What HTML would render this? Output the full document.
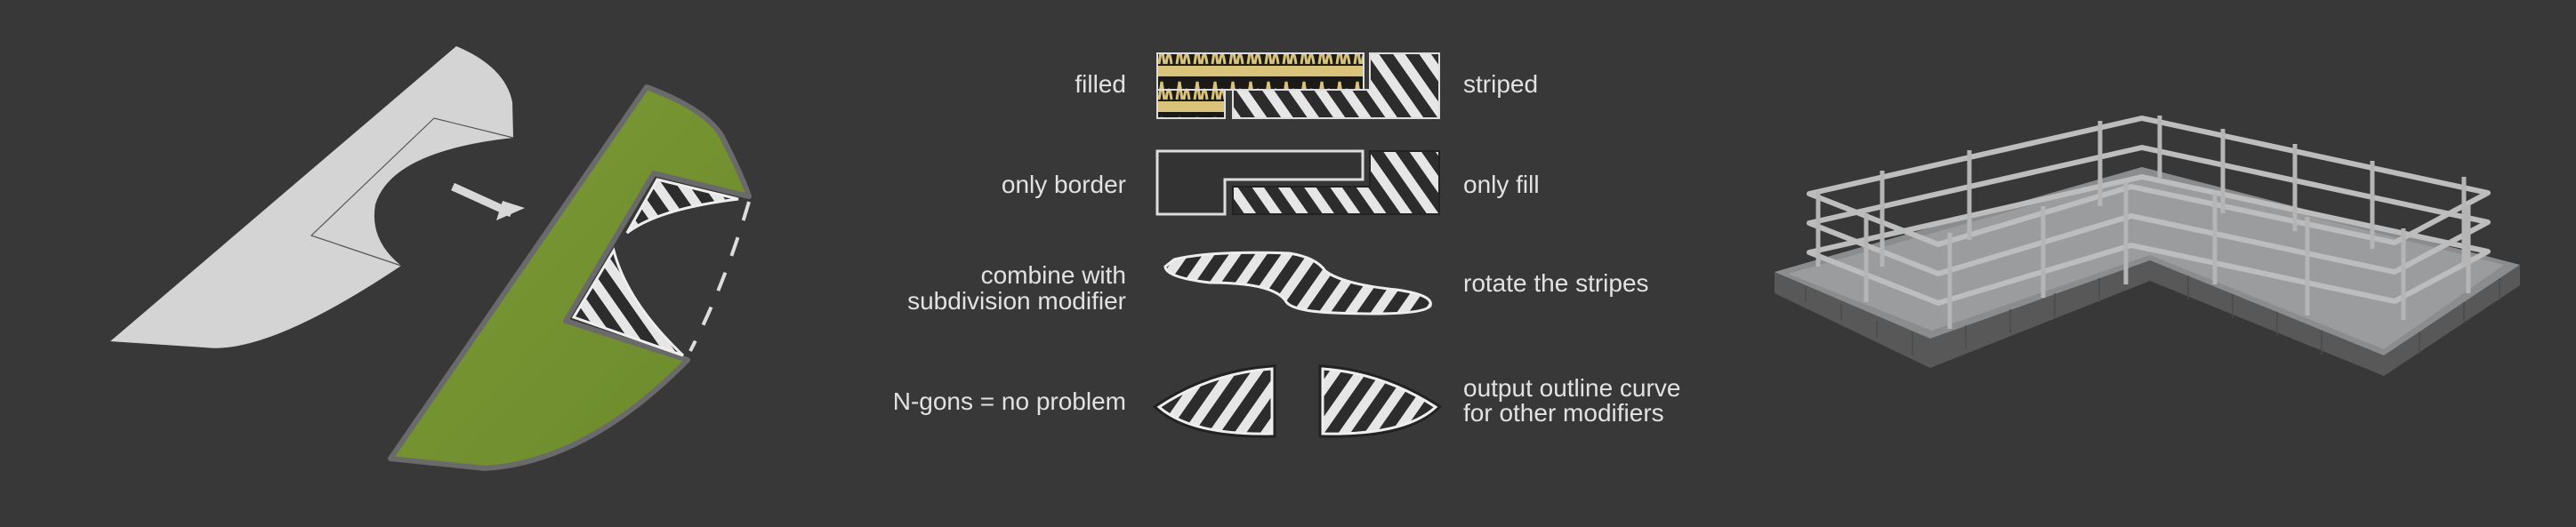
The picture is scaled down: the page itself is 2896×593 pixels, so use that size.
<!DOCTYPE html>
<html><head><meta charset="utf-8"><style>
html,body{margin:0;padding:0;background:#383838;}
svg{display:block}
text{font-family:"Liberation Sans Narrow","Liberation Sans",sans-serif;font-size:28px;fill:#e2e2e2}
</style></head><body>
<svg width="2896" height="593" viewBox="0 0 2896 593" xmlns="http://www.w3.org/2000/svg">
<defs>
<pattern id="st" width="24" height="24" patternUnits="userSpaceOnUse" patternTransform="rotate(35)">
<rect width="24" height="24" fill="#2c2c2c"/><rect width="11" height="24" fill="#e6e6e6"/></pattern>
<pattern id="st2" width="24" height="24" patternUnits="userSpaceOnUse" patternTransform="rotate(-35)">
<rect width="24" height="24" fill="#2c2c2c"/><rect width="11" height="24" fill="#e6e6e6"/></pattern>
<pattern id="gold" width="20" height="40" patternUnits="userSpaceOnUse">
<rect width="20" height="40" fill="#1c1a16"/><rect width="20" height="6" fill="#d9c27a"/><rect y="34" width="20" height="6" fill="#d9c27a"/>
<path d="M3 32 L6 12 L9 32 M11 32 Q14 10 17 32" stroke="#d9c27a" stroke-width="3" fill="none"/></pattern>
<linearGradient id="gr" x1="0" y1="0" x2="1" y2="1"><stop offset="0" stop-color="#7f9a35"/><stop offset="1" stop-color="#6a8a2c"/></linearGradient>
</defs>
<rect width="2896" height="593" fill="#383838"/>

<!-- left gray shape -->
<path d="M513 52 Q568 75 576 115 L577 155 Q440 170 422 230 Q415 270 451 299 Q300 400 230 391 L124 384 Z" fill="#d4d4d4"/>
<path d="M577 155 L488 133 L350 265 L451 299" fill="none" stroke="#555" stroke-width="1.2"/>
<!-- arrow -->
<path d="M509 210 L575 240" stroke="#d8d8d8" stroke-width="9"/>
<path d="M590 234 L565 226 L558 248 Z" fill="#d8d8d8"/>

<!-- green shape -->
<path d="M727 98 Q800 125 815 160 Q835 200 842 221 L735 195 L636 361 L773 405 Q660 520 545 527 L439 516 Z" fill="url(#gr)" stroke="#6a6a6a" stroke-width="6" stroke-linejoin="round"/>
<path d="M739 202 L830 224 Q740 235 705 262 Z" fill="url(#st2)" stroke="#eee" stroke-width="3"/>
<path d="M690 282 L645 357 L768 400 Q705 340 690 282 Z" fill="url(#st2)" stroke="#eee" stroke-width="3"/>
<path d="M842 227 Q815 320 776 395" fill="none" stroke="#ddd" stroke-width="4" stroke-dasharray="22 20"/>

<!-- middle labels -->
<text x="1266" y="104" text-anchor="end">filled</text>
<text x="1645" y="104">striped</text>
<text x="1266" y="217" text-anchor="end">only border</text>
<text x="1645" y="217">only fill</text>
<text x="1266" y="319" text-anchor="end">combine with</text>
<text x="1266" y="348" text-anchor="end">subdivision modifier</text>
<text x="1645" y="328">rotate the stripes</text>
<text x="1266" y="461" text-anchor="end">N-gons = no problem</text>
<text x="1645" y="446">output outline curve</text>
<text x="1645" y="474">for other modifiers</text>

<!-- row1 -->
<rect x="1301" y="60" width="232" height="41" fill="url(#gold)" stroke="#ddd" stroke-width="2"/>
<rect x="1301" y="101" width="76" height="32" fill="url(#gold)" stroke="#ddd" stroke-width="2"/>
<path d="M1540 60 H1618 V133 H1386 V101 H1540 Z" fill="url(#st2)" stroke="#ddd" stroke-width="2"/>
<!-- row2 -->
<path d="M1301 170 H1532 V202 H1377 V241 H1301 Z" fill="#333" stroke="#ddd" stroke-width="3"/>
<path d="M1540 170 H1618 V241 H1386 V210 H1540 Z" fill="url(#st2)" stroke="#222" stroke-width="2"/>
<!-- row3 blob -->
<path d="M1320 292 Q1360 282 1450 285 Q1480 290 1490 305 Q1510 320 1570 326 Q1612 332 1608 344 Q1600 356 1500 352 Q1450 350 1445 338 Q1430 318 1360 318 Q1310 312 1310 300 Z" fill="url(#st)" stroke="#eee" stroke-width="3"/>
<!-- row4 lenses -->
<path d="M1430 415 Q1360 420 1303 458 Q1340 490 1430 488 Z" fill="none" stroke="#222" stroke-width="9"/>
<path d="M1430 415 Q1360 420 1303 458 Q1340 490 1430 488 Z" fill="url(#st)" stroke="#eee" stroke-width="3"/>
<path d="M1487 415 Q1555 420 1614 458 Q1580 490 1487 488 Z" fill="none" stroke="#222" stroke-width="9"/>
<path d="M1487 415 Q1555 420 1614 458 Q1580 490 1487 488 Z" fill="url(#st)" stroke="#eee" stroke-width="3"/>

<!-- right: platform -->
<path d="M1995 306 L1995 330 L2170 414 L2417 316 L2680 423 L2833 321 L2833 298 L2680 400 L2417 293 L2170 381 Z" fill="#585858"/>
<path d="M1995 306 L2408 188 L2833 298 L2680 400 L2417 293 L2170 381 Z" fill="#8a8c8e"/>
<path d="M2010 308 L2408 196 L2815 298 L2680 393 L2417 287 L2172 372 Z" fill="#9a9c9e"/>
<g stroke="#4a4a4a" stroke-width="1.5">
<path d="M2030 322 V340 M2070 342 V360 M2110 361 V380 M2150 373 V400 M2210 366 V393 M2260 348 V375 M2310 330 V357 M2360 313 V340 M2460 310 V337 M2510 331 V358 M2560 351 V378 M2610 372 V399 M2720 374 V398 M2770 340 V364 M2810 313 V338"/>
</g>
<!-- rails -->
<g fill="none" stroke="#bdbdbd" stroke-width="6" stroke-linejoin="round">
<path d="M2034 218 L2408 133 L2797 217 L2692 273 L2396 210 L2179 275 Z"/>
<path d="M2034 251 L2408 166 L2797 250 L2692 306 L2396 243 L2179 308 Z"/>
<path d="M2034 284 L2408 199 L2797 283 L2692 339 L2396 276 L2179 341 Z"/>
</g>
<g stroke="#b5b5b5" stroke-width="5">
<path d="M2116 192 V300 M2214 169 V270 M2361 136 V232 M2428 130 V200 M2499 145 V240 M2580 162 V260 M2667 181 V280 M2770 199 V300"/>
<path d="M2098 240 V340 M2192 262 V370 M2297 232 V335 M2390 205 V320 M2490 217 V320 M2594 244 V355 M2702 257 V360 M2775 230 V330 M2044 215 V300"/>
</g>
</svg>
</body></html>
